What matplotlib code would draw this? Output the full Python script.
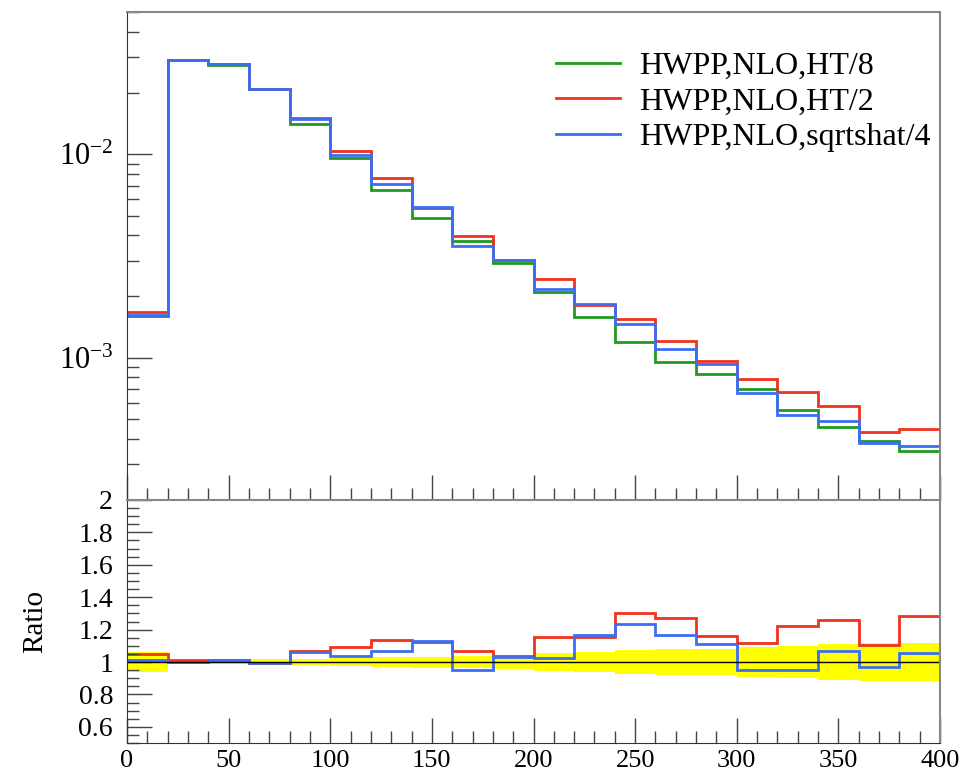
import numpy as np
import matplotlib
matplotlib.use("Agg")
import matplotlib.pyplot as plt
from matplotlib.ticker import MultipleLocator, LogLocator, NullFormatter, FormatStrFormatter

plt.rcParams['font.family'] = ['Liberation Serif', 'DejaVu Serif']
plt.rcParams['mathtext.fontset'] = 'custom'
plt.rcParams['mathtext.rm'] = 'Liberation Serif'
plt.rcParams['mathtext.it'] = 'Liberation Serif:italic'
plt.rcParams['mathtext.bf'] = 'Liberation Serif:bold'

# bin edges (0..400, width 20)
edges = np.arange(0, 420, 20)

# reference: HWPP,NLO,HT/8 (green)
green = [1.60e-3, 2.89e-2, 2.74e-2, 2.10e-2, 1.41e-2, 9.55e-3, 6.71e-3, 4.86e-3,
         3.74e-3, 2.93e-3, 2.11e-3, 1.58e-3, 1.19e-3, 9.48e-4, 8.32e-4, 7.05e-4,
         5.52e-4, 4.59e-4, 3.92e-4, 3.49e-4]
# ratios to the reference
ratio_red = [1.051, 1.010, 1.010, 0.993, 1.069, 1.092, 1.137, 1.122, 1.065, 1.037,
             1.157, 1.153, 1.300, 1.274, 1.161, 1.116, 1.223, 1.260, 1.102, 1.284]
ratio_blue = [1.012, 1.000, 1.012, 0.995, 1.059, 1.039, 1.069, 1.127, 0.949, 1.031,
              1.026, 1.167, 1.235, 1.167, 1.114, 0.951, 0.951, 1.065, 0.967, 1.057]
# relative uncertainty of the reference (yellow band)
band_err = [0.061, 0.015, 0.015, 0.016, 0.021, 0.026, 0.030, 0.034, 0.038, 0.041,
            0.056, 0.061, 0.075, 0.079, 0.081, 0.091, 0.099, 0.109, 0.116, 0.117]

labels = ['HWPP,NLO,HT/8', 'HWPP,NLO,HT/2', 'HWPP,NLO,sqrtshat/4']
colors = ['#1f9a1f', '#f0321e', '#3c6ef5']

green = np.array(green)
red = green * np.array(ratio_red)
blue = green * np.array(ratio_blue)
band_err = np.array(band_err)

fig = plt.figure(figsize=(9.74, 7.8), dpi=100)
ax = fig.add_axes([0.1304, 0.3590, 0.8347, 0.6256])
axr = fig.add_axes([0.1304, 0.0474, 0.8347, 0.3116], sharex=ax)

lw = 2.0
ax.stairs(green, edges, color=colors[0], lw=lw, baseline=None, label=labels[0])
ax.stairs(red, edges, color=colors[1], lw=lw, baseline=None, label=labels[1])
ax.stairs(blue, edges, color=colors[2], lw=lw, baseline=None, label=labels[2])

ax.set_yscale('log')
ax.set_ylim(2e-4, 5e-2)
ax.set_xlim(0, 400)
ax.yaxis.set_major_locator(LogLocator(base=10))
ax.yaxis.set_minor_locator(LogLocator(base=10, subs=np.arange(2, 10)))
ax.yaxis.set_minor_formatter(NullFormatter())
ax.xaxis.set_major_locator(MultipleLocator(50))
ax.xaxis.set_minor_locator(MultipleLocator(10))
ax.tick_params(axis='x', which='both', labelbottom=False)

leg = ax.legend(loc='upper right', bbox_to_anchor=(1.016, 0.965), frameon=False,
                fontsize=23, handlelength=2.0, handletextpad=0.6,
                labelspacing=0.2, borderaxespad=0.3)

# ratio panel
axr.stairs(1 + band_err, edges, baseline=1 - band_err, fill=True,
           color='#ffff00', lw=0)
axr.axhline(1.0, color='black', lw=1.0)
axr.stairs(ratio_red, edges, color=colors[1], lw=lw, baseline=None)
axr.stairs(ratio_blue, edges, color=colors[2], lw=lw, baseline=None)
axr.set_ylim(0.5, 2.0)
axr.yaxis.set_major_locator(MultipleLocator(0.2))
axr.yaxis.set_minor_locator(MultipleLocator(0.05))
axr.yaxis.set_major_formatter(FormatStrFormatter('%g'))
axr.set_ylabel('Ratio', fontsize=21)
axr.yaxis.set_label_coords(-0.097, 0.5)

for a in (ax, axr):
    a.tick_params(which='both', direction='in', top=False, right=False,
                  color='#444444', width=1.0, labelsize=20)
    a.tick_params(which='major', length=18)
    a.tick_params(which='minor', length=8.5)
    a.tick_params(axis='y', pad=10)
    for s in ('left', 'bottom'):
        a.spines[s].set_color('#333333')
    for s in ('right', 'top'):
        a.spines[s].set_color('#888888')
        a.spines[s].set_linewidth(1.5)
ax.spines['bottom'].set_color('black')
ax.tick_params(axis='y', labelsize=22)
axr.tick_params(axis='x', labelsize=19, pad=5)

fig.savefig('out.png', dpi=100)
